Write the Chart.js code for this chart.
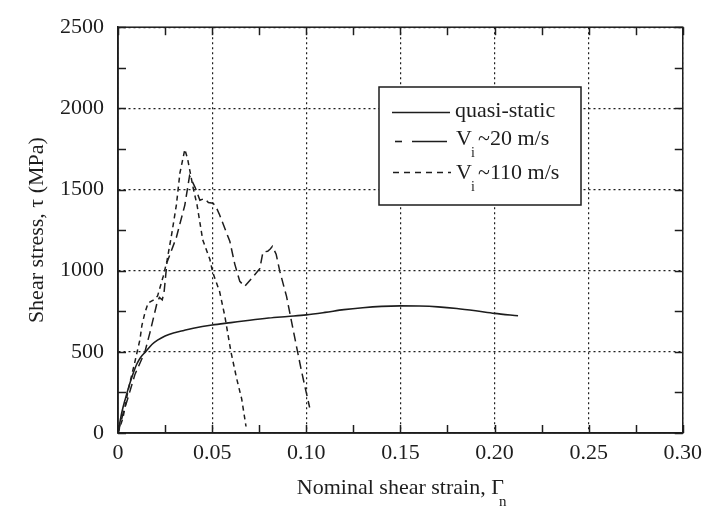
<!DOCTYPE html>
<html><head><meta charset="utf-8">
<script src="https://cdn.jsdelivr.net/npm/chart.js@4"></script>
<style>html,body{margin:0;padding:0;background:#fff}</style>
</head><body>
<canvas id="c" width="709" height="509"></canvas>
<script>
// ---- tick labels ----
const xTickLabels = ['0', '0.05', '0.10', '0.15', '0.20', '0.25', '0.30'];
const yTickLabels = ['0', '500', '1000', '1500', '2000', '2500'];

// ---- series: quasi-static ----
const quasiStrain = [0, 0.002, 0.004, 0.006, 0.008, 0.010, 0.012, 0.015, 0.018, 0.021, 0.025, 0.030, 0.035, 0.040, 0.050, 0.060, 0.070, 0.080, 0.090, 0.100, 0.110, 0.120, 0.130, 0.140, 0.150, 0.160, 0.170, 0.180, 0.190, 0.200, 0.2125];
const quasiStress = [0, 125, 215, 295, 365, 425, 465, 505, 545, 572, 598, 618, 632, 645, 665, 680, 695, 708, 718, 728, 743, 760, 772, 780, 783, 782, 777, 767, 753, 737, 722];

// ---- series: Vi ~20 m/s ----
const v20Strain = [0, 0.0027, 0.0053, 0.009, 0.0143, 0.017, 0.0207, 0.022, 0.0235, 0.0245, 0.026, 0.031, 0.0355, 0.038, 0.041, 0.0435, 0.046, 0.048, 0.0505, 0.052, 0.054, 0.0594, 0.062, 0.0647, 0.0673, 0.071, 0.0753, 0.077, 0.0795, 0.081, 0.082, 0.084, 0.086, 0.0895, 0.093, 0.0954, 0.0975, 0.099, 0.1018];
const v20Stress = [0, 120, 217, 361, 500, 620, 800, 835, 820, 870, 1050, 1205, 1404, 1584, 1512, 1434, 1445, 1420, 1415, 1395, 1343, 1181, 1042, 934, 903, 952, 1012, 1114, 1120, 1135, 1150, 1102, 994, 843, 639, 500, 380, 301, 157];

// ---- series: Vi ~110 m/s ----
const v110Strain = [0, 0.0027, 0.0053, 0.009, 0.0117, 0.0127, 0.0143, 0.016, 0.0187, 0.021, 0.024, 0.026, 0.0285, 0.031, 0.0329, 0.0355, 0.037, 0.040, 0.042, 0.045, 0.0488, 0.0503, 0.054, 0.0567, 0.060, 0.063, 0.0657, 0.068];
const v110Stress = [0, 96, 259, 440, 578, 663, 741, 801, 819, 843, 964, 1060, 1223, 1404, 1602, 1747, 1687, 1506, 1404, 1190, 1070, 990, 870, 723, 500, 337, 210, 40];

const seriesNames = ['quasi-static', 'V ~20 m/s', 'V ~110 m/s'];

const ink = '#1d1d1d';
const serif = "'Liberation Serif', 'Times New Roman', serif";
const pts = (xs, ys) => xs.map((v, i) => ({ x: v, y: ys[i] }));

const framePlugin = {
  id: 'frameLegend',
  afterDraw(chart) {
    const { ctx, chartArea: { left, right, top, bottom }, scales: { x, y } } = chart;
    ctx.save();
    ctx.strokeStyle = ink;
    ctx.lineWidth = 1.5;
    ctx.setLineDash([]);
    ctx.strokeRect(left, top, right - left, bottom - top);
    const seg = (a, b, c, d) => { ctx.beginPath(); ctx.moveTo(a, b); ctx.lineTo(c, d); ctx.stroke(); };
    const tl = 8;
    for (let i = 0; i <= 12; i++) {
      const px = Math.round(x.getPixelForValue(i * 0.025)) + 0.5;
      seg(px, bottom, px, bottom - tl);
      seg(px, top, px, top + tl);
    }
    for (let i = 0; i <= 10; i++) {
      const py = Math.round(y.getPixelForValue(i * 250)) + 0.5;
      seg(left, py, left + tl, py);
      seg(right, py, right - tl, py);
    }
    // subscript n of x title
    ctx.fillStyle = ink;
    ctx.font = '22px ' + serif;
    const t = chart.options.scales.x.title.text;
    const w = ctx.measureText(t).width;
    const cx = (left + right) / 2;
    ctx.font = '15px ' + serif;
    ctx.textBaseline = 'middle';
    ctx.textAlign = 'left';
    ctx.fillText('n', cx + w / 2 - 5, 502);

    // legend box
    const bx = 379, by = 87, bw = 202, bh = 118;
    ctx.fillStyle = '#fff';
    ctx.fillRect(bx, by, bw, bh);
    ctx.lineWidth = 1.5;
    ctx.strokeRect(bx, by, bw, bh);
    ctx.lineWidth = 1.6;
    // row 1 solid
    seg(392, 112.5, 450, 112.5);
    // row 2 dash-long
    seg(395, 141.5, 402, 141.5);
    seg(412, 141.5, 447, 141.5);
    // row 3 short dashes
    ctx.setLineDash([6, 5]);
    seg(393, 172.5, 451, 172.5);
    ctx.setLineDash([]);
    ctx.fillStyle = ink;
    ctx.font = '22px ' + serif;
    ctx.textBaseline = 'middle';
    ctx.fillText(seriesNames[0], 455, 111);
    const drawV = (label, yy) => {
      ctx.font = '22px ' + serif;
      ctx.fillText('V', 456, yy);
      ctx.font = '14px ' + serif;
      ctx.fillText('i', 471, yy + 14);
      ctx.font = '22px ' + serif;
      ctx.fillText(label.replace('V ', ''), 478, yy);
    };
    drawV(seriesNames[1], 139);
    drawV(seriesNames[2], 173);
    ctx.restore();
  }
};

new Chart(document.getElementById('c'), {
  type: 'scatter',
  data: {
    datasets: [
      { label: seriesNames[0], data: pts(quasiStrain, quasiStress), showLine: true, borderColor: ink, borderWidth: 1.6, pointRadius: 0, cubicInterpolationMode: 'monotone' },
      { label: seriesNames[1], data: pts(v20Strain, v20Stress), showLine: true, borderColor: ink, borderWidth: 1.5, pointRadius: 0, borderDash: [9, 5], tension: 0 },
      { label: seriesNames[2], data: pts(v110Strain, v110Stress), showLine: true, borderColor: ink, borderWidth: 1.5, pointRadius: 0, borderDash: [5, 4], tension: 0 }
    ]
  },
  options: {
    responsive: false,
    animation: false,
    devicePixelRatio: 1,
    layout: { padding: { top: 19, right: 25, left: 0, bottom: 0 } },
    plugins: { legend: { display: false }, tooltip: { enabled: false } },
    scales: {
      x: {
        type: 'linear', min: 0, max: 0.3,
        afterFit: s => { s.height = 76; },
        ticks: { stepSize: 0.05, color: ink, font: { family: serif, size: 22 }, padding: 7, maxRotation: 0,
          callback: (v, i) => xTickLabels[i] },
        grid: { color: ink, lineWidth: 1.2, drawTicks: false },
        border: { color: ink, width: 1.5, dash: [2, 3] },
        title: { display: true, text: 'Nominal shear strain, Γ', color: ink, font: { family: serif, size: 22 }, padding: { bottom: 8, top: 0 } }
      },
      y: {
        type: 'linear', min: 0, max: 2500,
        afterFit: s => { s.width = 118; },
        ticks: { stepSize: 500, color: ink, font: { family: serif, size: 22 }, padding: 14,
          callback: (v, i) => yTickLabels[i] },
        grid: { color: ink, lineWidth: 1.2, drawTicks: false },
        border: { color: ink, width: 1.5, dash: [2, 3] },
        title: { display: true, text: 'Shear stress, τ (MPa)', color: ink, font: { family: serif, size: 22 }, padding: { top: 24, bottom: 0 } }
      }
    }
  },
  plugins: [framePlugin]
});
</script>
</body></html>
